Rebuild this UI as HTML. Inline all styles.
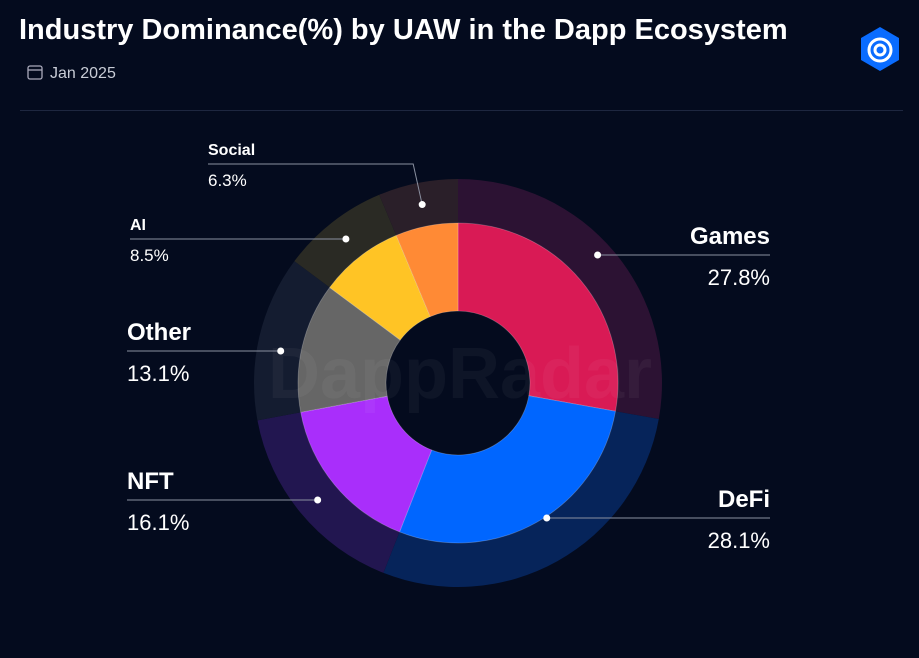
<!DOCTYPE html>
<html><head><meta charset="utf-8"><style>
body{margin:0;width:919px;height:658px;background:#040b1e;overflow:hidden;font-family:"Liberation Sans",sans-serif}
</style></head><body>
<svg width="919" height="658" style="position:absolute;left:0;top:0">
<text x="19" y="39" fill="#fff" font-size="29" font-weight="bold">Industry Dominance(%) by UAW in the Dapp Ecosystem</text>
<g>
<rect x="28" y="66" width="14" height="13" rx="2" fill="none" stroke="#aab" stroke-width="1.3"/>
<line x1="28" y1="70" x2="42" y2="70" stroke="#aab" stroke-width="1.3"/>
<text x="50" y="78" fill="#c8ccd6" font-size="16">Jan 2025</text></g>
<g>
<polygon points="880,27 899,38 899,60 880,71 861,60 861,38" fill="#0a6cff"/>
<circle cx="880" cy="50" r="11" fill="none" stroke="#fff" stroke-width="3"/>
<circle cx="880" cy="50" r="5" fill="none" stroke="#fff" stroke-width="3"/></g>
<line x1="20" y1="110.5" x2="903" y2="110.5" stroke="#1e2740" stroke-width="1"/>
<g id="rings"></g>
<text x="460" y="398" text-anchor="middle" fill="#ffffff" fill-opacity="0.045" font-size="72" font-weight="bold">DappRadar</text>
<g id="labels"></g>
</svg>
<script>
const categories=["Games","DeFi","NFT","Other","AI","Social"];
const values=[27.8,28.1,16.1,13.1,8.5,6.3];
const valueLabels=["27.8%","28.1%","16.1%","13.1%","8.5%","6.3%"];
const colors=["#d91a55","#0066ff","#a92efb","#666666","#ffc425","#ff8a35"];
const darkColors=["#2c1233","#06245a","#221650","#141c30","#2a2a24","#2a1f29"];
const cx=458,cy=383,R0=204,R1=160,R2=72;
const NS="http://www.w3.org/2000/svg";
const total=values.reduce((a,b)=>a+b,0);
function pt(a,r){return [cx+r*Math.sin(a),cy-r*Math.cos(a)];}
function arc(a0,a1,ro,ri){const l=a1-a0>Math.PI?1:0;const p=pt(a0,ro),q=pt(a1,ro),s=pt(a1,ri),t=pt(a0,ri);
return `M${p}A${ro},${ro} 0 ${l} 1 ${q}L${s}A${ri},${ri} 0 ${l} 0 ${t}Z`;}
const rings=document.getElementById('rings'),labels=document.getElementById('labels');
const layout={Games:{right:true,y:236,fs:24},DeFi:{right:true,y:499,fs:24},NFT:{right:false,y:481,fs:24,x:127},Other:{right:false,y:332,fs:24,x:127},AI:{right:false,y:224,fs:16,x:130},Social:{right:false,y:149,fs:16,x:208}};
let acc=0;
values.forEach((v,i)=>{
 const a0=acc/total*2*Math.PI;acc+=v;const a1=acc/total*2*Math.PI;
 const o=document.createElementNS(NS,'path');o.setAttribute('d',arc(a0,a1,R0,R1-1));o.setAttribute('fill',darkColors[i]);
 
 
 rings.appendChild(o);
 const p=document.createElementNS(NS,'path');p.setAttribute('d',arc(a0,a1,R1,R2));p.setAttribute('fill',colors[i]);
 p.setAttribute('stroke','#ffffff');p.setAttribute('stroke-opacity','0.25');p.setAttribute('stroke-width','0.8');
 
 
 rings.appendChild(p);
 const L=layout[categories[i]];
 const am=(a0+a1)/2;const d=pt(am,182);
 const ly=L.y+(L.fs>20?19:15);
 const g=document.createElementNS(NS,'g');
 
 
 const lx=L.right?770:L.x;
 let path;
 if(categories[i]==='Social'){path=`M${lx},${ly}L${d[0]-9},${ly}L${d[0]},${d[1]}`;}
 else path=`M${d[0]},${ly}L${lx},${ly}`;
 const ln=document.createElementNS(NS,'path');ln.setAttribute('d',path);ln.setAttribute('stroke','#8a90a0');ln.setAttribute('stroke-width','1');ln.setAttribute('fill','none');g.appendChild(ln);
 const c=document.createElementNS(NS,'circle');c.setAttribute('cx',d[0]);c.setAttribute('cy',categories[i]==='Social'?d[1]:ly);c.setAttribute('r',3.5);c.setAttribute('fill','#fff');g.appendChild(c);
 const t1=document.createElementNS(NS,'text');t1.setAttribute('x',lx);t1.setAttribute('y',L.y+(L.fs>20?8:6));
 t1.setAttribute('fill','#fff');t1.setAttribute('font-size',L.fs);t1.setAttribute('font-weight','bold');
 if(L.right)t1.setAttribute('text-anchor','end');t1.textContent=categories[i];g.appendChild(t1);
 const t2=document.createElementNS(NS,'text');t2.setAttribute('x',lx);t2.setAttribute('y',ly+(L.fs>20?30:22));
 t2.setAttribute('fill','#fff');t2.setAttribute('font-size',L.fs>20?22:17);
 if(L.right)t2.setAttribute('text-anchor','end');t2.textContent=valueLabels[i];g.appendChild(t2);
 labels.appendChild(g);
});
</script>
</body></html>
